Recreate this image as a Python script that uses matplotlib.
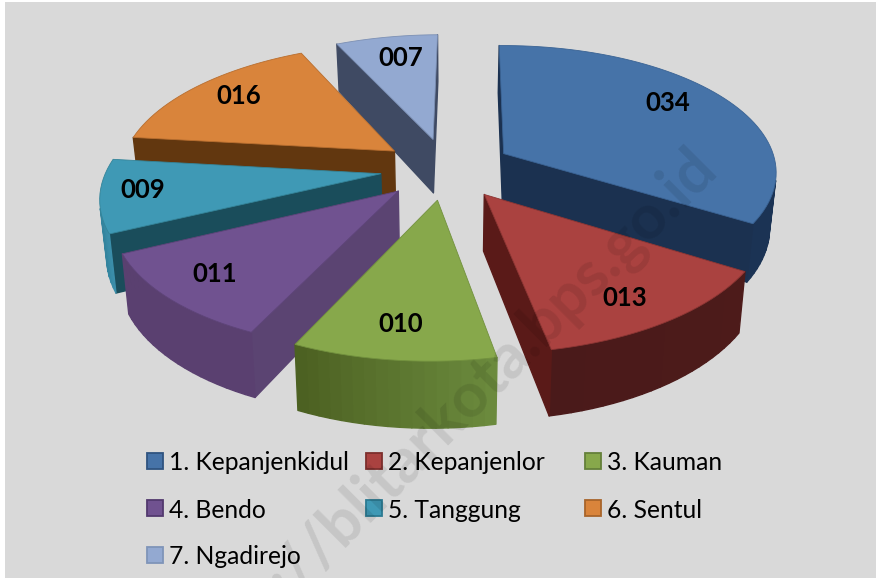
import numpy as np
import matplotlib
matplotlib.use("Agg")
import matplotlib.pyplot as plt
from matplotlib.patches import Polygon, Rectangle

plt.rcParams['font.family'] = ['Lato', 'DejaVu Sans']

categories = ["1. Kepanjenkidul", "2. Kepanjenlor", "3. Kauman", "4. Bendo",
              "5. Tanggung", "6. Sentul", "7. Ngadirejo"]
values = [34, 13, 10, 11, 9, 16, 7]
value_labels = ["034", "013", "010", "011", "009", "016", "007"]

top_colors = ["#4673a8", "#aa4240", "#87a84b", "#705290", "#3f99b5", "#d9843b", "#93a9d1"]
edge_colors = ["#3a6394", "#8c3533", "#72913e", "#5e4479", "#348499", "#b86e2f", "#7c90b4"]
rim_start = ["#1c3556", "#4d1b1a", "#6b8a3d", "#5a4070", "#3b8eaa", "#63380f", "#3f4a63"]
rim_end = ["#1b3354", "#4a1a1a", "#4a5e20", "#5a4070", "#1f6a7e", "#63380f", "#3f4a63"]
face_colors = ["#1b3150", "#5a1a18", "#5f7f36", "#5b4472", "#1a4d5b", "#62370f", "#3f4a63"]
legend_edges = ["#2f5380", "#7c2f2d", "#64803a", "#52396e", "#2c7a92", "#a8642a", "#7f94b8"]

label_xy = [(668, 103), (625, 298), (401, 324), (215, 274), (143, 190), (239, 96), (401, 58)]

CX, CY = 446.5, 168.5
RADIUS, EXPLODE = 274.0, 66.0
TILT, PERSP = 0.466, 0.000527
SHEAR = 0.02
ROTATION = np.deg2rad(-0.7)
DEPTH, BOTTOM_SHRINK = 55.0, 0.98
draw_order = [6, 5, 0, 4, 1, 3, 2]


def project(gx, gy, low=False):
    s = 1.0 / (1.0 + PERSP * gy)
    shrink = BOTTOM_SHRINK if low else 1.0
    drop = s * DEPTH if low else 0.0
    return CX + s * shrink * gx + SHEAR * gy, CY - s * TILT * gy + drop


def signed_area(p):
    p = np.asarray(p)
    x, y = p[:, 0], p[:, 1]
    return 0.5 * np.sum(x * np.roll(y, -1) - np.roll(x, -1) * y)


def hex_rgb(c):
    return np.array(matplotlib.colors.to_rgb(c))


fig = plt.figure(figsize=(8.76, 5.78), dpi=100, facecolor="white")
ax = fig.add_axes([0, 0, 1, 1])
ax.set_xlim(0, 876)
ax.set_ylim(578, 0)
ax.axis("off")
ax.add_patch(Rectangle((5, 2), 871, 576, facecolor="#d9d9d9", edgecolor="none", zorder=0))

fractions = np.array(values, dtype=float) / np.sum(values)
ends = np.cumsum(fractions) * 2 * np.pi + ROTATION
starts = ends - fractions * 2 * np.pi

z = 1
for i in draw_order:
    t0, t1 = starts[i], ends[i]
    mid = 0.5 * (t0 + t1)
    ax0, ay0 = EXPLODE * np.sin(mid), EXPLODE * np.cos(mid)
    th = np.linspace(t0, t1, max(int((t1 - t0) * 30), 8))
    gx = np.r_[ax0, ax0 + RADIUS * np.sin(th)]
    gy = np.r_[ay0, ay0 + RADIUS * np.cos(th)]
    top = np.column_stack(project(gx, gy))
    low = np.column_stack(project(gx, gy, low=True))
    sgn = np.sign(signed_area(top))
    n = len(top)
    for a in range(n):
        b = (a + 1) % n
        quad = [top[a], top[b], low[b], low[a]]
        if np.sign(signed_area(quad)) == sgn:
            continue
        if a == 0 or b == 0:
            col = face_colors[i]
        else:
            u = (a - 1) / max(n - 2, 1)
            col = (1 - u) * hex_rgb(rim_start[i]) + u * hex_rgb(rim_end[i])
        ax.add_patch(Polygon(quad, closed=True, facecolor=col, edgecolor=col, lw=1.0,
                             joinstyle="round", zorder=z))
    z += 1
    ax.add_patch(Polygon(top, closed=True, facecolor=top_colors[i], edgecolor=edge_colors[i],
                         lw=0.6, zorder=z))
    z += 1

for lab, (x, y) in zip(value_labels, label_xy):
    ax.text(x, y, lab, ha="center", va="center", fontsize=18.5, fontweight="bold",
            color="black", zorder=50)

for i, name in enumerate(categories):
    row, col = i // 3, i % 3
    x0 = 147 + col * 219
    yc = 461 + row * 47
    ax.add_patch(Rectangle((x0, yc - 8), 16, 16, facecolor=top_colors[i],
                           edgecolor=legend_edges[i], lw=1.3, zorder=40))
    ax.text(x0 + 22, yc, name, ha="left", va="center_baseline", fontsize=17.7,
            color="black", zorder=50)

ax.text(707, 158, "https://blitarkota.bps.go.id", rotation=45, rotation_mode="anchor",
        ha="right", va="center", fontsize=45, fontweight="bold",
        color="black", alpha=0.09, zorder=60, clip_on=True)

fig.savefig("out.png", dpi=100, facecolor="white")
